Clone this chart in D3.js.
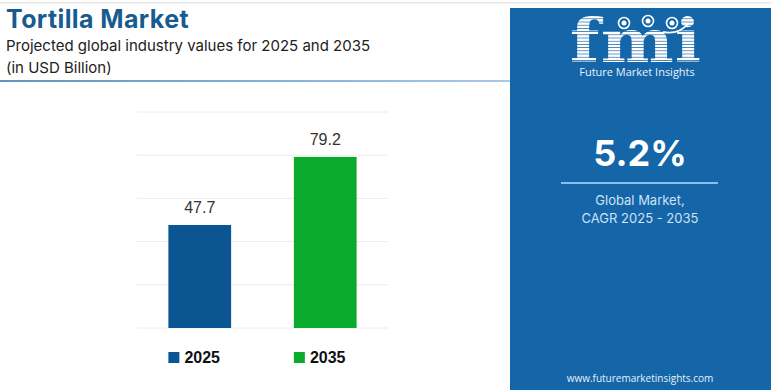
<!DOCTYPE html>
<html>
<head>
<meta charset="utf-8">
<script src="https://cdn.jsdelivr.net/npm/d3@7"></script>
<style>
  body { margin: 0; background: #fff; }
  svg { display: block; }
</style>
</head>
<body>
<svg id="chart" width="771" height="390"></svg>
<script>
const years = ["2025", "2035"];
const values = [47.7, 79.2];
const barColors = ["#0b5592", "#0aab2c"];
const gridTicks = [0, 20, 40, 60, 80, 100];
const cagr = "5.2%";
const cagrLines = ["Global Market,", "CAGR 2025 - 2035"];

const svg = d3.select("#chart");
const width = +svg.attr("width");
const height = +svg.attr("height");

// top border + header underline
svg.append("rect").attr("x", 0).attr("y", 2).attr("width", width).attr("height", 1.5).attr("fill", "#e6e6e6");
const defs = svg.append("defs");
const grad = defs.append("linearGradient").attr("id", "uline");
grad.append("stop").attr("offset", "0%").attr("stop-color", "#5e94c4");
grad.append("stop").attr("offset", "100%").attr("stop-color", "#a9c9e6");
svg.append("rect").attr("x", 0).attr("y", 80).attr("width", 510).attr("height", 2).attr("fill", "url(#uline)");

// titles
svg.append("text").attr("x", 6).attr("y", 28)
  .style("font", "bold 25px Inter, 'Open Sans', sans-serif").attr("letter-spacing", 0.4).attr("fill", "#175b91")
  .text("Tortilla Market");
svg.append("text").attr("x", 6).attr("y", 51)
  .style("font", "15px Inter, 'Open Sans', sans-serif").attr("fill", "#222")
  .text("Projected global industry values for 2025 and 2035");
svg.append("text").attr("x", 6).attr("y", 73)
  .style("font", "15px Inter, 'Open Sans', sans-serif").attr("fill", "#222")
  .text("(in USD Billion)");

// chart
const x = d3.scaleBand().domain(years).range([137, 388]).paddingInner(0.5).paddingOuter(0.25);
const y = d3.scaleLinear().domain([0, 100]).range([328, 112]);

svg.append("g").selectAll("line").data(gridTicks).join("line")
  .attr("x1", 137).attr("x2", 388)
  .attr("y1", d => y(d)).attr("y2", d => y(d))
  .attr("stroke", "#ececec").attr("stroke-width", 1);

svg.append("g").selectAll("rect").data(values).join("rect")
  .attr("x", (d, i) => x(years[i]))
  .attr("y", d => y(d))
  .attr("width", x.bandwidth())
  .attr("height", d => y(0) - y(d))
  .attr("fill", (d, i) => barColors[i]);

svg.append("g").selectAll("text").data(values).join("text")
  .attr("x", (d, i) => x(years[i]) + x.bandwidth() / 2)
  .attr("y", d => y(d) - 12)
  .attr("text-anchor", "middle")
  .style("font", "16px 'Liberation Sans', Arial, sans-serif").attr("fill", "#333")
  .text(d => d.toFixed(1));

// legend
const leg = svg.append("g").selectAll("g").data(years).join("g")
  .attr("transform", d => `translate(${x(d)},352)`);
leg.append("rect").attr("width", 11).attr("height", 11).attr("fill", (d, i) => barColors[i]);
leg.append("text").attr("x", 16).attr("y", 11)
  .style("font", "bold 16px 'Liberation Sans', Arial, sans-serif").attr("fill", "#111")
  .text(d => d);

// right panel
const panel = svg.append("g");
panel.append("rect").attr("x", 510).attr("y", 8).attr("width", width - 510).attr("height", height - 8).attr("fill", "#1466a9");

// logo
const cx = 636;
const pat = defs.append("pattern").attr("id", "stripes").attr("patternUnits", "userSpaceOnUse")
  .attr("width", 4).attr("height", 3.2);
pat.append("rect").attr("width", 4).attr("height", 2.5).attr("fill", "#fff");
panel.append("text").attr("x", cx).attr("y", 62).attr("text-anchor", "middle")
  .style("font", "bold 60px 'DejaVu Serif', serif").attr("letter-spacing", 1)
  .attr("transform", `translate(${cx},0) scale(1.15,1) translate(${-cx},0)`)
  .attr("fill", "url(#stripes)").text("fmi");
[[624, 23], [648, 21], [672, 23]].forEach(([gx, gy]) => {
  panel.append("circle").attr("cx", gx).attr("cy", gy).attr("r", 5.5).attr("fill", "none").attr("stroke", "#fff").attr("stroke-width", 1.6);
  panel.append("circle").attr("cx", gx).attr("cy", gy).attr("r", 2.5).attr("fill", "#fff");
});
panel.append("path").attr("d", "M663,32 Q678,35 688,24").attr("fill", "none").attr("stroke", "#fff").attr("stroke-width", 1.8);
panel.append("text").attr("x", 637).attr("y", 76).attr("text-anchor", "middle")
  .style("font", "11px 'Open Sans', sans-serif").attr("fill", "#eaf2fa")
  .text("Future Market Insights");

panel.append("text").attr("x", 640).attr("y", 166).attr("text-anchor", "middle")
  .style("font", "bold 36px Inter, 'Open Sans', sans-serif").attr("fill", "#fff")
  .text(cagr);
panel.append("rect").attr("x", 561).attr("y", 182).attr("width", 157).attr("height", 2).attr("fill", "#8fbde6");
panel.selectAll("text.cagr").data(cagrLines).join("text").attr("class", "cagr")
  .attr("x", 640).attr("y", (d, i) => 205 + i * 18).attr("text-anchor", "middle")
  .style("font", "13px Inter, 'Open Sans', sans-serif").attr("fill", "#cfe2f4")
  .text(d => d);
panel.append("text").attr("x", 640).attr("y", 382).attr("text-anchor", "middle")
  .style("font", "10px 'Open Sans', sans-serif").attr("fill", "#e6f0fa")
  .text("www.futuremarketinsights.com");
</script>
</body>
</html>
